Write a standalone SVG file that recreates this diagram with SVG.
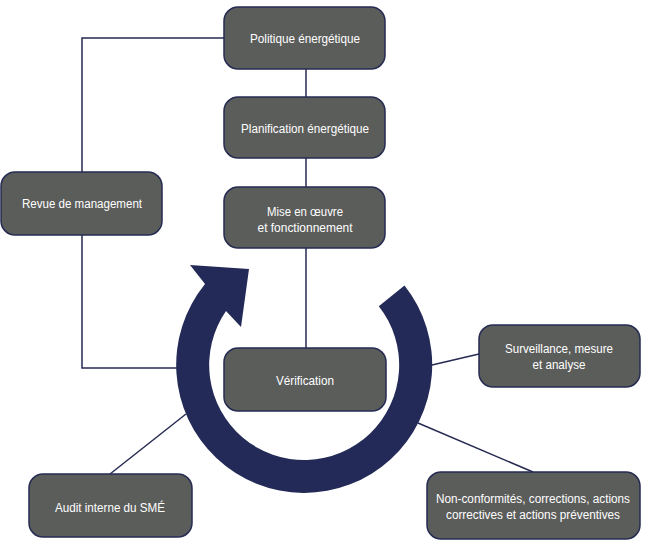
<svg xmlns="http://www.w3.org/2000/svg" width="655" height="546" viewBox="0 0 655 546">
<style>
.box{fill:#5b5d5b;stroke:#262b52;stroke-width:1.5}
.t{fill:#ffffff;font-family:"Liberation Sans",Arial,sans-serif;font-size:13.5px;text-anchor:middle}
.c{fill:none;stroke:#262b52;stroke-width:1.5}
</style>
<rect width="655" height="546" fill="#ffffff"/>
<g id="connectors">
<polyline class="c" points="224,38 82,38 82,172"/>
<polyline class="c" points="82,235 82,368 178,368"/>
<line class="c" x1="306" y1="69" x2="306" y2="97"/>
<line class="c" x1="306" y1="158" x2="306" y2="187"/>
<line class="c" x1="306" y1="248" x2="306" y2="348"/>
<line class="c" x1="432" y1="365" x2="479" y2="354"/>
<line class="c" x1="418" y1="423" x2="533" y2="472"/>
<line class="c" x1="186" y1="414" x2="110" y2="474"/>
</g>
<g id="cycle">
<path fill="#232a57" d="M 404.5 285.4 A 128 128 0 1 1 205 284 L 190 265 L 249 269 L 241 327 L 226 311 A 95 95 0 1 0 378.8 306.2 Z"/>
</g>
<g id="politique">
<rect class="box" x="224" y="7" width="161" height="62" rx="14"/>
<text class="t" transform="translate(305,43) scale(0.85,1)" textLength="129.4" lengthAdjust="spacingAndGlyphs">Politique énergétique</text>
</g>
<g id="planification">
<rect class="box" x="224" y="97" width="161" height="61" rx="14"/>
<text class="t" transform="translate(305,133) scale(0.85,1)" textLength="150.6" lengthAdjust="spacingAndGlyphs">Planification énergétique</text>
</g>
<g id="mise">
<rect class="box" x="224" y="187" width="161" height="61" rx="14"/>
<text class="t" transform="translate(305,216) scale(0.85,1)" textLength="89.4" lengthAdjust="spacingAndGlyphs">Mise en œuvre</text>
<text class="t" transform="translate(305,232) scale(0.85,1)" textLength="111.8" lengthAdjust="spacingAndGlyphs">et fonctionnement</text>
</g>
<g id="verification">
<rect class="box" x="224" y="348" width="162" height="63" rx="14"/>
<text class="t" transform="translate(305,385) scale(0.85,1)" textLength="68.2" lengthAdjust="spacingAndGlyphs">Vérification</text>
</g>
<g id="revue">
<rect class="box" x="1" y="172" width="161" height="63" rx="14"/>
<text class="t" transform="translate(82,208) scale(0.85,1)" textLength="141.2" lengthAdjust="spacingAndGlyphs">Revue de management</text>
</g>
<g id="surveillance">
<rect class="box" x="479" y="325" width="161" height="62" rx="14"/>
<text class="t" transform="translate(559,353) scale(0.85,1)" textLength="127.1" lengthAdjust="spacingAndGlyphs">Surveillance, mesure</text>
<text class="t" transform="translate(559,369) scale(0.85,1)" textLength="62.4" lengthAdjust="spacingAndGlyphs">et analyse</text>
</g>
<g id="nonconf">
<rect class="box" x="427" y="472" width="213" height="67" rx="14"/>
<text class="t" transform="translate(533,503) scale(0.85,1)" textLength="228.2" lengthAdjust="spacingAndGlyphs">Non-conformités, corrections, actions</text>
<text class="t" transform="translate(533,519) scale(0.85,1)" textLength="204.7" lengthAdjust="spacingAndGlyphs">correctives et actions préventives</text>
</g>
<g id="audit">
<rect class="box" x="29" y="474" width="163" height="63" rx="14"/>
<text class="t" transform="translate(110,512) scale(0.85,1)" textLength="129.4" lengthAdjust="spacingAndGlyphs">Audit interne du SMÉ</text>
</g>
</svg>
